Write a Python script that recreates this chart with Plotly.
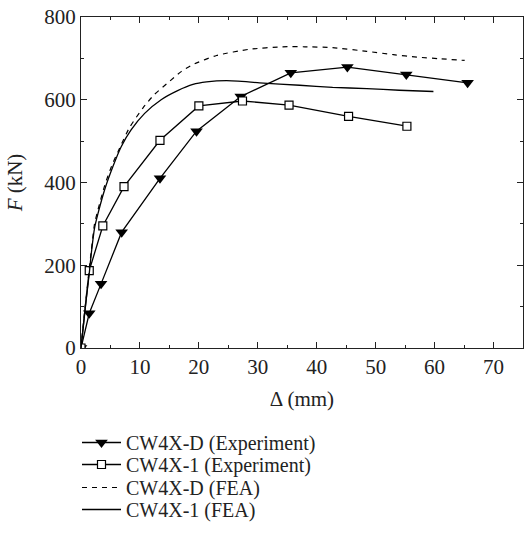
import plotly.graph_objects as go

# CW4X-D (Experiment)
d_exp_x = [0, 1.4, 3.4, 6.9, 13.4, 19.6, 27.1, 35.6, 45.2, 55.2, 65.6]
d_exp_y = [0, 84, 155, 280, 410, 524, 608, 665, 679, 661, 641]
# CW4X-1 (Experiment)
s_exp_x = [0, 1.4, 3.7, 7.3, 13.4, 20.0, 27.4, 35.3, 45.4, 55.3]
s_exp_y = [0, 187, 295, 390, 502, 585, 597, 587, 560, 536]
# CW4X-D (FEA)
d_fea_x = [0, 0.7, 1.75, 2.3, 2.9, 4.0, 5.2, 6.3, 8.2, 10.5, 12.4, 14.5, 17, 19, 23, 28.6, 34.2, 38, 42.7, 48.5, 53, 57, 61, 65.1]
d_fea_y = [0, 100, 235, 300, 335, 392, 440, 475, 532, 580, 612, 638, 668, 685, 707, 722, 728, 728, 726, 717, 709, 703, 699, 695]
# CW4X-1 (FEA)
s_fea_x = [0, 0.7, 1.45, 1.75, 2.3, 2.9, 4.0, 5.4, 6.8, 8.5, 10.8, 13.6, 16.4, 19, 21.3, 24.7, 30.3, 37.1, 42.7, 48.5, 54, 59.8]
s_fea_y = [0, 95, 187, 229, 290, 326, 382, 438, 486, 527, 567, 600, 622, 637, 643, 646, 641, 635, 630, 627, 623, 620]

x_ticks = [0, 10, 20, 30, 40, 50, 60, 70]
y_ticks = [0, 200, 400, 600, 800]

FONT = "Liberation Serif"
FS = 21
LFS = 20
fig = go.Figure()
fig.add_trace(go.Scatter(x=d_exp_x, y=d_exp_y, mode="lines+markers", name="CW4X-D (Experiment)",
                         line=dict(color="black", width=1.3), legend="legend", showlegend=True,
                         marker=dict(symbol="triangle-down", size=11, color="black")))
fig.add_trace(go.Scatter(x=s_exp_x, y=s_exp_y, mode="lines+markers", name="CW4X-1 (Experiment)",
                         line=dict(color="black", width=1.3), legend="legend2",
                         marker=dict(symbol="square", size=8, color="white", line=dict(color="black", width=1.2))))
fig.add_trace(go.Scatter(x=d_fea_x, y=d_fea_y, mode="lines", name="CW4X-D (FEA)",
                         legend="legend3",
                         line=dict(color="black", width=1.2, dash="5px,5px", shape="spline", smoothing=0.6)))
fig.add_trace(go.Scatter(x=s_fea_x, y=s_fea_y, mode="lines", name="CW4X-1 (FEA)",
                         legend="legend4",
                         line=dict(color="black", width=1.3, shape="spline", smoothing=0.6)))

axis_common = dict(showline=True, linecolor="#222", linewidth=1.3, mirror="ticks", ticks="inside",
                   ticklen=6, tickcolor="#222", tickwidth=1.2, showgrid=False, zeroline=False,
                   tickfont=dict(family=FONT, size=FS, color="#222"))
fig.update_xaxes(range=[0, 75], tickvals=x_ticks,
                 minor=dict(dtick=5, ticklen=3, ticks="inside", tickcolor="#222", showgrid=False),
                 title=dict(text="Δ (mm)", font=dict(family=FONT, size=FS, color="#222"), standoff=12),
                 **axis_common)
fig.update_yaxes(range=[0, 800], tickvals=y_ticks,
                 minor=dict(dtick=100, ticklen=3, ticks="inside", tickcolor="#222", showgrid=False),
                 title=dict(text="<i>F</i> (kN)", font=dict(family=FONT, size=FS, color="#222")),
                 **axis_common)

PL, PW, PT, PH = 81, 442, 17, 331

def leg(center_y):
    return dict(x=(77 - PL)/PW, y=(PT + PH - (center_y - 19))/PH,
                xanchor="left", yanchor="top", bgcolor="rgba(0,0,0,0)",
                font=dict(family=FONT, size=LFS, color="#222"), itemwidth=39)

fig.update_layout(width=524, height=535, margin=dict(l=PL, r=524 - PL - PW, t=PT, b=535 - PT - PH, autoexpand=False),
                  plot_bgcolor="white", paper_bgcolor="white", showlegend=True,
                  font=dict(family=FONT, size=FS, color="#222"),
                  legend=leg(442), legend2=leg(464), legend3=leg(487), legend4=leg(509))
fig.write_html("out.html")
